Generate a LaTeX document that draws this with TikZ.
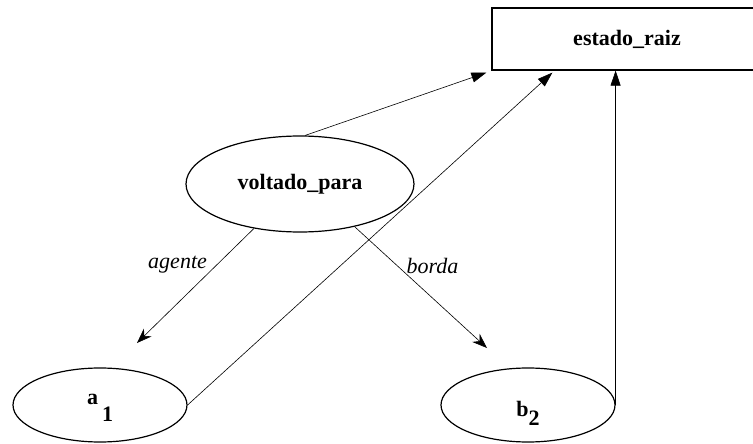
\documentclass[tikz,border=0pt]{standalone}
\usepackage{fontspec}
\setmainfont{Liberation Serif}
\usetikzlibrary{arrows.meta,shapes.geometric}

\begin{document}
\begin{tikzpicture}[x=1pt,y=-1pt,
  font=\fontsize{22}{26}\selectfont,
  estado/.style={draw, line width=1.2pt, minimum width=270pt, minimum height=62pt, font=\fontsize{22}{26}\selectfont\bfseries},
  conceito/.style={draw, ellipse, line width=1.2pt, inner sep=0pt},
  rotulo/.style={font=\fontsize{22}{26}\selectfont\bfseries},
  rel/.style={line width=0.6pt, -{Stealth[length=15pt,width=11pt]}},
  liga/.style={line width=0.6pt, -{Triangle[length=15pt,width=10pt]}},
  papel/.style={font=\fontsize{22}{26}\selectfont\itshape}]
  \useasboundingbox (0,0) rectangle (753,444);

  \node[estado] (raiz) at (627,39) {estado\_raiz};
  \node[conceito, minimum width=228pt, minimum height=96pt] (vp) at (300,184) {};
  \node[rotulo] at (vp.center) {voltado\_para};
  \node[conceito, minimum width=174pt, minimum height=74pt] (a1) at (100,405) {};
  \node[rotulo] at ([yshift=-3pt]a1.center) {a\hspace{4pt}\raisebox{-17pt}{1}};
  \node[conceito, minimum width=174pt, minimum height=74pt] (b2) at (528,405) {};
  \node[rotulo] at ([yshift=-8pt]b2.center) {b\raisebox{-9pt}{2}};

  % papeis da relacao
  \draw[rel] (vp.224) -- ([xshift=37pt,yshift=62pt]a1.center)
    node[papel, pos=0.32, left=6pt] {agente};
  \draw[rel] (vp.322) -- ([xshift=-41pt,yshift=57pt]b2.center)
    node[papel, pos=0.32, right=6pt] {borda};

  % ligacoes ao estado
  \draw[liga] (vp.84) -- ([xshift=-5pt,yshift=-2pt]raiz.south west);
  \draw[liga] (a1.east) -- ([xshift=61pt,yshift=-2pt]raiz.south west);
  \draw[liga] (b2.east) -- (b2.east |- raiz.south);
\end{tikzpicture}
\end{document}
